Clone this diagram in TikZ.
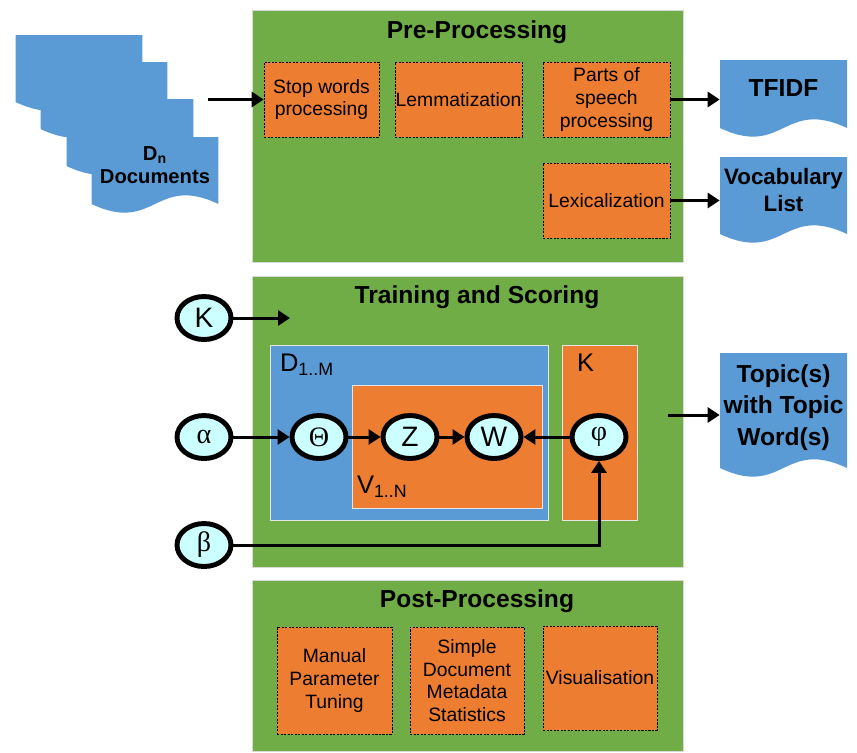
\documentclass[tikz,border=0pt]{standalone}
\usepackage{fontspec}
\setmainfont{Liberation Sans}
\newfontfamily\grk{Liberation Serif}
\usetikzlibrary{arrows.meta,shapes.geometric}
\definecolor{figG}{RGB}{112,173,71}
\definecolor{figO}{RGB}{237,125,49}
\definecolor{figB}{RGB}{91,155,213}
\definecolor{figC}{RGB}{204,255,255}

\begin{document}
\begin{tikzpicture}[x=0.02cm,y=-0.02cm,>={Triangle[length=2.4mm,width=3mm]},
  stage/.style={draw=black!15,fill=figG,minimum width=8.62cm},
  title/.style={font=\fontsize{14}{16}\selectfont\bfseries},
  task/.style={draw=black,line width=0.4pt,dash pattern=on 1.2pt off 0.8pt,fill=figO,minimum width=2.54cm,minimum height=1.5cm,inner sep=0pt,align=center,font=\fontsize{11}{13}\selectfont},
  plate/.style={draw=black!10,fill=#1},
  lab/.style={anchor=base west,inner sep=0pt,font=\fontsize{14.5}{17}\selectfont},
  var/.style={ellipse,draw=black,line width=2.8pt,fill=figC,minimum width=1.08cm,minimum height=0.86cm,inner sep=0pt,font=\fontsize{16}{18}\selectfont},
  docu/.style={minimum width=2.54cm,inner sep=0pt,align=center,text depth=4mm,font=\fontsize{14}{18}\selectfont\bfseries,
    path picture={\fill[figB] (path picture bounding box.north west) -- (path picture bounding box.north east)
      -- ([yshift=1.8mm]path picture bounding box.south east)
      .. controls ([yshift=7.8mm]path picture bounding box.south) and ([yshift=-4.2mm]path picture bounding box.south) ..
      ([yshift=1.8mm]path picture bounding box.south west) -- cycle;}},
  link/.style={->,line width=1.7pt}]
\useasboundingbox (0,0) rectangle (857,752);
% the three stages
\node[stage,minimum height=5.04cm] (pre) at (467.5,136) {};
\node[stage,minimum height=5.82cm] (train) at (467.5,421.5) {};
\node[stage,minimum height=3.42cm] (post) at (467.5,665.5) {};
\node[title] (preT) at (477,32) {Pre-Processing};
\node[title] (trainT) at (477,297) {Training and Scoring};
\node[title] (postT) at (477,601) {Post-Processing};
% pre-processing steps
\node[task,minimum width=2.3cm] (stop) at (321.5,99.5) {Stop words\\processing};
\node[task] (lemma) at (458.5,99.5) {Lemmatization};
\node[task] (pos) at (606.5,99.5) {Parts of\\speech\\processing};
\node[task] (lex) at (606.5,200.5) {Lexicalization};
% post-processing steps
\node[task,minimum width=2.3cm,minimum height=2.14cm] (manual) at (334.5,680.5) {Manual\\Parameter\\Tuning};
\node[task,minimum width=2.28cm,minimum height=2.14cm] (stats) at (467,680.5) {Simple\\Document\\Metadata\\Statistics};
\node[task,minimum width=2.28cm,minimum height=2.08cm] (visual) at (600,678) {Visualisation};
% documents in and out
\node[docu,minimum height=1.52cm] (d1) at (79,73) {};
\node[docu,minimum height=1.52cm] (d2) at (104,100) {};
\node[docu,minimum height=1.52cm] (d3) at (130,137) {};
\node[docu,minimum height=1.52cm,font=\fontsize{11.5}{13.5}\selectfont\bfseries] (docs) at (155,175) {D\textsubscript{n}\\Documents};
\node[docu,minimum height=1.54cm] (tfidf) at (783.5,98.5) {TFIDF};
\node[docu,minimum height=1.72cm,font=\fontsize{12.7}{15}\selectfont\bfseries] (vocab) at (783.5,200) {Vocabulary\\List};
\node[docu,minimum height=2.48cm] (topic) at (783.5,415) {Topic(s)\\with Topic\\Word(s)};
% plates
\node[plate=figB,minimum width=5.56cm,minimum height=3.5cm] (dplate) at (409,432.5) {};
\node[plate=figO,minimum width=3.8cm,minimum height=2.46cm] (vplate) at (447,446.5) {};
\node[plate=figO,minimum width=1.5cm,minimum height=3.5cm] (kplate) at (599.5,432.5) {};
\node[lab] (dlab) at ([xshift=0.2cm,yshift=-0.54cm]dplate.north west) {D\textsubscript{1..M}};
\node[lab] (vlab) at ([xshift=0.1cm,yshift=0.3cm]vplate.south west) {V\textsubscript{1..N}};
\node[lab] (klab) at ([xshift=0.3cm,yshift=-0.54cm]kplate.north west) {K};
% variables
\node[var] (kp) at (204,318) {K};
\node[var] (alpha) at (204,437) {\grk α};
\node[var] (beta) at (204,545) {\grk β};
\node[var] (theta) at (319,437) {\grk Θ};
\node[var] (z) at (410,437) {Z};
\node[var] (w) at (494,437) {W};
\node[var] (phi) at (599,437) {\grk φ};
\coordinate (docsin) at (208,99.5);
\coordinate (kin) at (290,318);
\coordinate (trainout) at (668,415);
% connectors
\draw[link] (docsin) -- (stop.west);
\draw[link] (pos.east) -- (pos.east -| tfidf.west);
\draw[link] (lex.east) -- (lex.east -| vocab.west);
\draw[link] (kp) -- (kin);
\draw[link] (alpha) -- (theta);
\draw[link] (theta) -- (z);
\draw[link] (z) -- (w);
\draw[link] (phi) -- (w);
\draw[link] (beta) -| (phi);
\draw[link] (trainout) -- (topic);
\end{tikzpicture}
\end{document}
